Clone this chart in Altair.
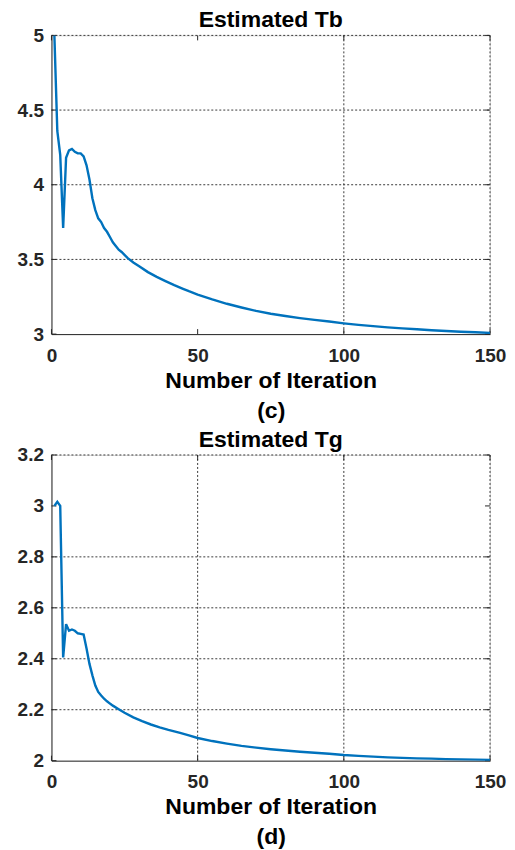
import altair as alt
import pandas as pd

# ---- data ----
tb_iter = [1, 2, 3, 4, 5, 6, 7, 8, 9, 10, 11, 12, 13, 14, 15, 16, 17, 18, 19, 20,
           21, 22, 23, 24, 26, 28, 30, 33, 36, 39, 42, 45, 47, 50, 55, 60, 65, 70,
           75, 80, 85, 90, 95, 100, 105, 110, 115, 120, 125, 130, 135, 140, 145, 150]
tb_val = [5.0, 4.36, 4.20, 3.71, 4.18, 4.23, 4.24, 4.22, 4.21, 4.21, 4.19, 4.13,
          4.035, 3.91, 3.83, 3.775, 3.75, 3.71, 3.685, 3.65, 3.615, 3.59, 3.565,
          3.55, 3.51, 3.48, 3.455, 3.415, 3.383, 3.355, 3.328, 3.303, 3.287, 3.265,
          3.232, 3.203, 3.178, 3.155, 3.136, 3.121, 3.107, 3.095, 3.084, 3.072,
          3.062, 3.053, 3.045, 3.038, 3.032, 3.026, 3.021, 3.016, 3.012, 3.008]

tg_iter = [1, 2, 3, 4, 5, 6, 7, 8, 9, 10, 11, 12, 13, 14, 15, 16, 17, 18, 19, 20,
           21, 23, 25, 28, 31, 34, 37, 40, 44, 47, 50, 55, 60, 65, 70, 75, 80, 85,
           90, 95, 100, 105, 110, 115, 120, 125, 130, 135, 140, 145, 150]
tg_val = [3.0, 3.016, 3.0, 2.405, 2.536, 2.51, 2.515, 2.51, 2.50, 2.498, 2.495,
          2.44, 2.38, 2.335, 2.295, 2.27, 2.256, 2.243, 2.233, 2.224, 2.216, 2.202,
          2.188, 2.17, 2.155, 2.142, 2.131, 2.121, 2.109, 2.099, 2.089, 2.077,
          2.067, 2.058, 2.051, 2.045, 2.040, 2.035, 2.031, 2.027, 2.022, 2.019,
          2.016, 2.013, 2.011, 2.009, 2.008, 2.006, 2.005, 2.004, 2.003]

x_ticks = [0, 50, 100, 150]
tb_yticks = [3, 3.5, 4, 4.5, 5]
tg_yticks = [2, 2.2, 2.4, 2.6, 2.8, 3, 3.2]

# grid lines that are visible in the reference
tb_xgrid = [100, 150]
tb_ygrid = [3.5, 4, 4.5, 5]
tg_xgrid = [50, 100, 150]
tg_ygrid = [2.2, 2.4, 2.6, 2.8, 3.2]

FONT = "Liberation Sans"
LINE = "#0072BD"
W = 439


def panel(iters, vals, yticks, xgrid, ygrid, title, sub, H):
    df = pd.DataFrame({"iter": iters, "val": vals})
    xscale = alt.Scale(domain=[0, 150], nice=False, zero=False)
    yscale = alt.Scale(domain=[yticks[0], yticks[-1]], nice=False, zero=False)
    common = dict(grid=False, ticks=False, domainColor="#262626",
                  labelFlush=False, labelOverlap=False,
                  labelFont=FONT, labelFontSize=19, labelFontWeight="bold",
                  labelColor="#262626", titleFont=FONT, titleFontSize=23,
                  titleFontWeight="bold", titleColor="#000000")
    xaxis = alt.Axis(values=x_ticks, format="d", labelPadding=12,
                     title=["Number of Iteration", sub], titleLineHeight=30,
                     titlePadding=4, **common)
    yaxis = alt.Axis(values=yticks, format="~g", labelPadding=8, title=None,
                     **common)

    def X(f):
        return alt.X(f, type="quantitative", scale=xscale, axis=xaxis)

    def Y(f):
        return alt.Y(f, type="quantitative", scale=yscale, axis=yaxis)

    line = alt.Chart(df).mark_line(color=LINE, strokeWidth=2.4, clip=True).encode(
        x=X("iter"), y=Y("val"))

    gx = pd.DataFrame({"g": xgrid})
    gy = pd.DataFrame({"g": ygrid})
    grid_style = dict(color="#3a3a3a", strokeDash=[2, 2], strokeWidth=1)
    vgrid = alt.Chart(gx).mark_rule(**grid_style).encode(
        x=X("g"), y=alt.value(0), y2=alt.value(H))
    hgrid = alt.Chart(gy).mark_rule(**grid_style).encode(
        y=Y("g"), x=alt.value(0), x2=alt.value(W))

    xt = pd.DataFrame({"t": x_ticks})
    yt = pd.DataFrame({"t": yticks})
    tick_style = dict(color="#262626", strokeWidth=1)
    xb = alt.Chart(xt).mark_rule(**tick_style).encode(
        x=X("t"), y=alt.value(H), y2=alt.value(H - 5))
    xtp = alt.Chart(xt).mark_rule(**tick_style).encode(
        x=X("t"), y=alt.value(0), y2=alt.value(5))
    yl = alt.Chart(yt).mark_rule(**tick_style).encode(
        y=Y("t"), x=alt.value(0), x2=alt.value(5))
    yr = alt.Chart(yt).mark_rule(**tick_style).encode(
        y=Y("t"), x=alt.value(W), x2=alt.value(W - 5))
    return alt.layer(vgrid, hgrid, xb, xtp, yl, yr, line).properties(
        width=W, height=H,
        title=alt.TitleParams(title, font=FONT, fontSize=23, fontWeight="bold",
                              color="#000000", offset=-6),
    )


top = panel(tb_iter, tb_val, tb_yticks, tb_xgrid, tb_ygrid, "Estimated Tb", "(c)", 299)
bottom = panel(tg_iter, tg_val, tg_yticks, tg_xgrid, tg_ygrid, "Estimated Tg", "(d)", 306)

chart = alt.vconcat(top, bottom, spacing=5).resolve_scale(y="independent").properties(
    padding={"left": 8.5, "top": 0, "right": 0, "bottom": 0}
).configure_view(stroke="#555555", strokeWidth=1).configure(background="white")

chart.save("out.html", embed_options={"renderer": "svg", "actions": False})
